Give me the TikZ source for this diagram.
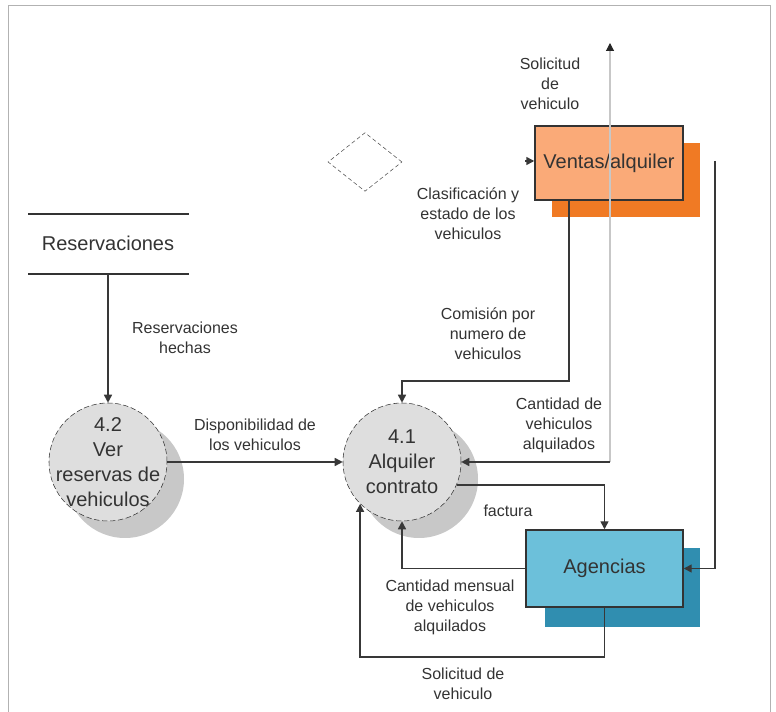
\documentclass[tikz,border=0pt]{standalone}
\usepackage{fontspec}
\setmainfont{Liberation Sans}
\usetikzlibrary{arrows.meta,shapes.geometric}
\definecolor{ventasfill}{RGB}{250,170,120}
\definecolor{ventasshade}{RGB}{240,122,36}
\definecolor{agenfill}{RGB}{108,192,218}
\definecolor{agenshade}{RGB}{48,142,176}
\definecolor{procfill}{RGB}{222,222,222}
\definecolor{procshade}{RGB}{200,200,200}
\begin{document}
\begin{tikzpicture}
      [x=0.75pt,y=-0.75pt
      ,flow/.style={draw=black!78,line width=1.1pt,-{Triangle[length=6pt,width=6pt]}}
      ,thinflow/.style={draw=black!22,line width=0.8pt,-{Triangle[length=6pt,width=6pt,color=black!85]}}
      ,proc/.style={circle,draw=black!80,dash pattern=on 4pt off 2pt,fill=procfill,minimum size=88.5pt,inner sep=0pt}
      ,procshadow/.style={circle,fill=procshade,minimum size=88.5pt,inner sep=0pt}
      ,proctext/.style={align=center,font=\fontsize{15}{18.75}\selectfont,text=black!80}
      ,entity/.style={rectangle,draw=black!80,line width=1.1pt,font=\fontsize{15}{18}\selectfont,text=black!80}
      ,entshadow/.style={rectangle,inner sep=0pt}
      ,decision/.style={diamond,draw=black!70,dash pattern=on 3pt off 2pt,minimum width=55.5pt,minimum height=44pt,inner sep=0pt}
      ,flab/.style={align=center,font=\fontsize{12}{15}\selectfont,text=black!80}
      ,lin/.style={draw=black!80,line width=1.1pt}
      ,frm/.style={draw=black!30,line width=0.6pt}
      ]
        \useasboundingbox (0,0) rectangle (776,712);
        \draw[frm] (8,712) -- (8,5) -- (770,5) -- (770,712);

        \node[entshadow,fill=ventasshade,minimum width=111pt,minimum height=55.5pt] (ventass) at (625.5,180.5) {};
        \node[entity,fill=ventasfill,minimum width=111pt,minimum height=55.5pt] (ventas) at (609,163) {Ventas/alquiler};
        \node[entshadow,fill=agenshade,minimum width=116.25pt,minimum height=59.25pt] (agens) at (622.5,587.5) {};
        \node[entity,fill=agenfill,minimum width=117.75pt,minimum height=57.75pt] (agencias) at (604.5,568.5) {Agencias};

        \node[decision] (choice) at (365,162) {};

        \draw[lin] (28,214) -- (189,214);
        \draw[lin] (28,274) -- (189,274);
        \node[entity,draw=none] (store) at (108,243) {Reservaciones};
        \coordinate (storebot) at (108,274);

        \node[procshadow] (p42s) at (125,479) {};
        \node[proc] (p42) at (108,462) {};
        \node[proctext] (t42) at (p42) {4.2\\Ver\\reservas de\\vehiculos};
        \node[procshadow] (p41s) at (419,479) {};
        \node[proc] (p41) at (402,462) {};
        \node[proctext] (t41) at (p41) {4.1\\Alquiler\\contrato};

        \coordinate (vin) at (525,161);
        \coordinate (c1) at (569,381);
        \coordinate (solup) at (610,43);
        \coordinate (cantj) at (610,462);
        \coordinate (vr) at (715,161);
        \coordinate (c3) at (361,657);

        \draw[flow] (storebot) -- (p42.north);
        \draw[flow] (p42.east) -- (p41.west);
        \draw[flow] (vin) -- (ventas.west |- vin);
        \draw[flow] (ventas.south -| c1) -- (c1) -| (p41.north);
        \draw[thinflow] (cantj) -- (solup);
        \draw[flow] (cantj) -- (p41.east);
        \draw[flow] (vr) |- (agencias.east);
        \draw[flow] (p41.-23) -| (agencias.north);
        \draw[flow] (agencias.west) -| (p41.south);
        \draw[flow] (agencias.south) |- (p41.225 |- c3) -- (p41.225);

        \node[flab] (lsol1) at (550,84) {Solicitud\\de\\vehiculo};
        \node[flab] (lclas) at (468,214) {Clasificación y\\estado de los\\vehiculos};
        \node[flab] (lres) at (185,338) {Reservaciones\\hechas};
        \node[flab] (lcom) at (488,334) {Comisión por\\numero de\\vehiculos};
        \node[flab] (ldisp) at (255,435) {Disponibilidad de\\los vehiculos};
        \node[flab] (lcant) at (559,425) {Cantidad de\\vehiculos\\alquilados};
        \node[flab] (lfact) at (508,511) {factura};
        \node[flab] (lmens) at (450,607) {Cantidad mensual\\de vehiculos\\alquilados};
        \node[flab] (lsol2) at (463,684) {Solicitud de\\vehiculo};

      \end{tikzpicture}
\end{document}
